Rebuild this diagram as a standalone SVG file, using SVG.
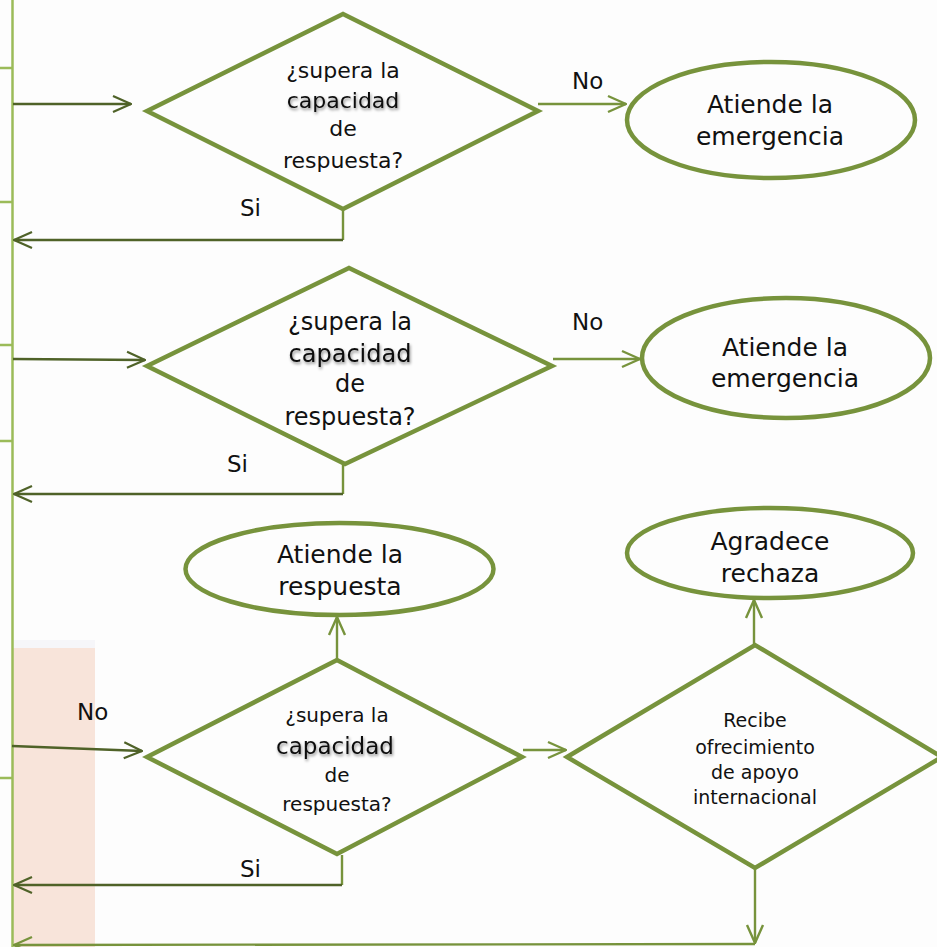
<svg xmlns="http://www.w3.org/2000/svg" width="937" height="947" viewBox="0 0 937 947">
<defs>
<marker id="aDark" viewBox="0 0 20 20" refX="19" refY="10" markerWidth="20" markerHeight="20" markerUnits="userSpaceOnUse" orient="auto">
<path d="M1,2 L19,10 L1,18" fill="none" stroke="#4f6228" stroke-width="2.2"/>
</marker>
<marker id="aLight" viewBox="0 0 20 20" refX="19" refY="10" markerWidth="20" markerHeight="20" markerUnits="userSpaceOnUse" orient="auto">
<path d="M1,2 L19,10 L1,18" fill="none" stroke="#77933c" stroke-width="2.4"/>
</marker>
<filter id="sh" x="-10%" y="-30%" width="130%" height="180%">
<feDropShadow dx="1" dy="2" stdDeviation="1.5" flood-color="#000" flood-opacity="0.45"/>
</filter>
<style>
.shape{fill:#fdfdfd;stroke:#77933c;stroke-width:4.5}
.t{font-family:"DejaVu Sans","Liberation Sans",sans-serif;fill:#111;text-anchor:middle}
.lbl{font-family:"DejaVu Sans","Liberation Sans",sans-serif;fill:#111;font-size:23px}
.dark{fill:none;stroke:#4f6228;stroke-width:2.4}
.light{fill:none;stroke:#77933c;stroke-width:2.4}
.guide{fill:none;stroke:#9bbb59;stroke-width:2.5}
</style>
</defs>
<rect width="937" height="947" fill="#fdfdfd"/>
<rect x="12" y="640" width="83" height="8" fill="#f6f6f9"/>
<rect x="12" y="648" width="83" height="299" fill="#f8e4da"/>

<g id="guide">
<line class="guide" x1="12.5" y1="0" x2="12.5" y2="947"/>
<line class="guide" x1="0" y1="68" x2="12" y2="68"/>
<line class="guide" x1="0" y1="202" x2="12" y2="202"/>
<line class="guide" x1="0" y1="345" x2="12" y2="345"/>
<line class="guide" x1="0" y1="441" x2="12" y2="441"/>
<line class="guide" x1="0" y1="778" x2="12" y2="778"/>
</g>

<g id="connectors">
<line class="dark" x1="13" y1="104" x2="131" y2="104" marker-end="url(#aDark)"/>
<line class="light" x1="538" y1="104" x2="626" y2="104" marker-end="url(#aLight)"/>
<polyline class="light" points="343,209 343,240"/>
<line class="dark" x1="343" y1="240" x2="14" y2="240" marker-end="url(#aDark)"/>

<line class="dark" x1="13" y1="359" x2="145" y2="360" marker-end="url(#aDark)"/>
<line class="light" x1="553" y1="359" x2="640" y2="359" marker-end="url(#aLight)"/>
<polyline class="light" points="343,464 343,494"/>
<line class="dark" x1="343" y1="494" x2="14" y2="494" marker-end="url(#aDark)"/>

<line class="dark" x1="12" y1="746" x2="142" y2="751" marker-end="url(#aDark)"/>
<line class="light" x1="337" y1="659" x2="337" y2="617" marker-end="url(#aLight)"/>
<line class="light" x1="523" y1="750" x2="566" y2="750" marker-end="url(#aLight)"/>
<polyline class="light" points="342,855 342,885"/>
<line class="dark" x1="342" y1="885" x2="14" y2="885" marker-end="url(#aDark)"/>
<line class="light" x1="754" y1="645" x2="754" y2="600" marker-end="url(#aLight)"/>
<line class="light" x1="755" y1="869" x2="755" y2="943" marker-end="url(#aLight)"/>
<line class="light" x1="755" y1="944" x2="14" y2="945" marker-end="url(#aLight)"/>
</g>

<g id="labels">
<text class="lbl" x="572" y="89">No</text>
<text class="lbl" x="240" y="216">Si</text>
<text class="lbl" x="572" y="330">No</text>
<text class="lbl" x="227" y="472">Si</text>
<text class="lbl" x="77" y="720">No</text>
<text class="lbl" x="240" y="877">Si</text>
</g>

<g id="decision1">
<polygon class="shape" points="147,111 343,14 538,111 343,209"/>
<text class="t" font-size="22" x="343" y="78">¿supera la</text>
<text class="t" font-size="22" x="343" y="108" filter="url(#sh)">capacidad</text>
<text class="t" font-size="22" x="343" y="136">de</text>
<text class="t" font-size="22" x="343" y="168">respuesta?</text>
</g>

<g id="end1">
<ellipse class="shape" cx="771" cy="120" rx="144" ry="58"/>
<text class="t" font-size="25" x="770" y="113">Atiende la</text>
<text class="t" font-size="25" x="770" y="145">emergencia</text>
</g>

<g id="decision2">
<polygon class="shape" points="147,366 349,268 552,366 345,464"/>
<text class="t" font-size="24" x="350" y="330">¿supera la</text>
<text class="t" font-size="24" x="350" y="362" filter="url(#sh)">capacidad</text>
<text class="t" font-size="24" x="350" y="392">de</text>
<text class="t" font-size="24" x="350" y="425">respuesta?</text>
</g>

<g id="end2">
<ellipse class="shape" cx="786" cy="358" rx="144" ry="60"/>
<text class="t" font-size="25" x="785" y="356">Atiende la</text>
<text class="t" font-size="25" x="785" y="387">emergencia</text>
</g>

<g id="decision3">
<polygon class="shape" points="147,757 337,660 522,757 337,854"/>
<text class="t" font-size="20" x="337" y="722">¿supera la</text>
<text class="t" font-size="23" x="335" y="754" filter="url(#sh)">capacidad</text>
<text class="t" font-size="20" x="337" y="782">de</text>
<text class="t" font-size="20" x="337" y="811">respuesta?</text>
</g>

<g id="end3">
<ellipse class="shape" cx="339.5" cy="569" rx="154" ry="46"/>
<text class="t" font-size="25" x="340" y="563">Atiende la</text>
<text class="t" font-size="25" x="340" y="595">respuesta</text>
</g>

<g id="decision4">
<polygon class="shape" points="567,757 755,645 942,757 755,868"/>
<text class="t" font-size="19" x="755" y="727">Recibe</text>
<text class="t" font-size="19" x="755" y="754">ofrecimiento</text>
<text class="t" font-size="19" x="755" y="779">de apoyo</text>
<text class="t" font-size="19" x="755" y="804">internacional</text>
</g>

<g id="end4">
<ellipse class="shape" cx="770" cy="553" rx="143" ry="45"/>
<text class="t" font-size="25" x="770" y="550">Agradece</text>
<text class="t" font-size="25" x="770" y="582">rechaza</text>
</g>
</svg>
